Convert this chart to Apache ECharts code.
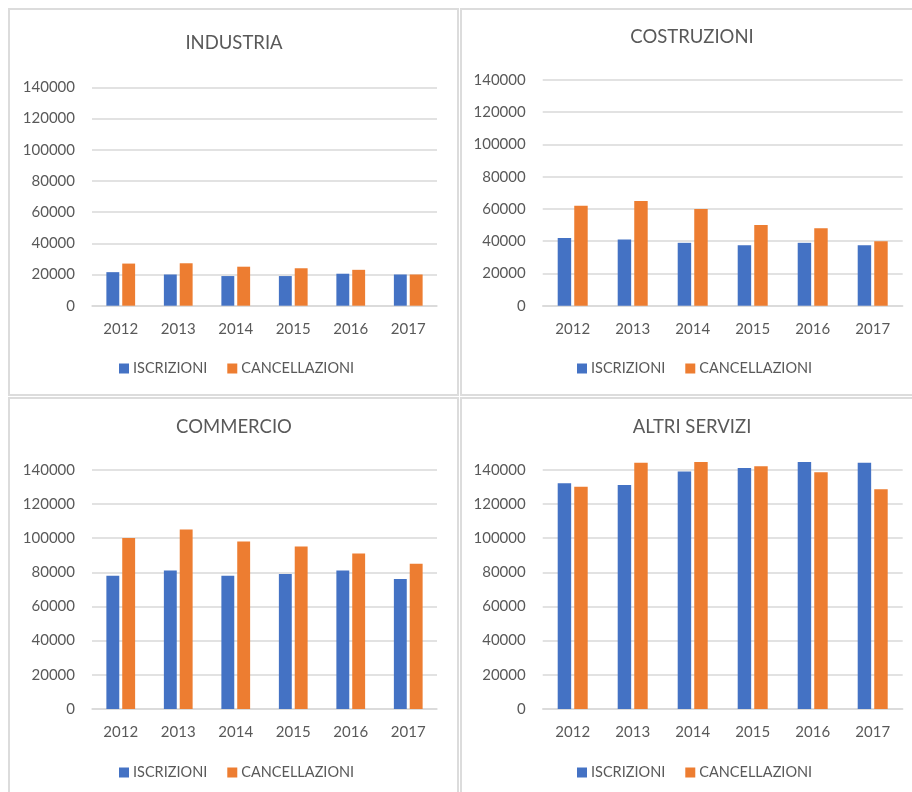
<!DOCTYPE html>
<html>
<head>
<meta charset="utf-8">
<script src="https://cdn.jsdelivr.net/npm/echarts@6/dist/echarts.min.js"></script>
<style>
  html, body { margin: 0; padding: 0; background: #ffffff; }
  #chart { width: 912px; height: 792px; }
</style>
</head>
<body>
<div id="chart"></div>
<script>
// Anni e serie per settore
const years = ['2012', '2013', '2014', '2015', '2016', '2017'];
const seriesNames = ['ISCRIZIONI', 'CANCELLAZIONI'];
const yTicks = { min: 0, max: 140000, interval: 20000 };

const industriaIscrizioni = [21500, 20000, 19000, 19000, 20500, 20000];
const industriaCancellazioni = [27000, 27200, 25000, 24000, 23000, 20000];

const costruzioniIscrizioni = [42000, 41000, 39000, 37500, 39000, 37500];
const costruzioniCancellazioni = [62000, 65000, 60000, 50000, 48000, 40000];

const commercioIscrizioni = [78000, 81000, 78000, 79000, 81000, 76000];
const commercioCancellazioni = [100000, 105000, 98000, 95000, 91000, 85000];

const altriIscrizioni = [132000, 131000, 139000, 141000, 144500, 144000];
const altriCancellazioni = [130000, 144000, 144500, 142000, 138500, 128500];

const panelTitles = ['INDUSTRIA', 'COSTRUZIONI', 'COMMERCIO', 'ALTRI SERVIZI'];
const panelData = [
  [industriaIscrizioni, industriaCancellazioni],
  [costruzioniIscrizioni, costruzioniCancellazioni],
  [commercioIscrizioni, commercioCancellazioni],
  [altriIscrizioni, altriCancellazioni]
];

// Layout of the four panels (page pixels)
const layout = [
  { box: [9, 9, 449, 386],  grid: [92, 87.3, 345, 218.4],  title: [234, 43],  legend: [119, 361] },
  { box: [461, 9, 460, 386], grid: [542.7, 80, 360, 225.7], title: [692, 37], legend: [577, 361] },
  { box: [9, 398, 449, 400], grid: [92, 469.7, 345, 239.3], title: [234, 427], legend: [119, 765] },
  { box: [461, 398, 460, 400], grid: [542.7, 469.7, 360, 239.3], title: [692, 427], legend: [577, 765] }
];

const COLORS = ['#4472C4', '#ED7D31'];
const TEXT = '#595959';
const LINE = '#d9d9d9';
const FONT = 'Lato, "Open Sans", sans-serif';

const grids = [], xAxes = [], yAxes = [], series = [], legends = [], graphics = [];

layout.forEach((p, i) => {
  graphics.push({
    type: 'rect', silent: true, z: 0,
    shape: { x: p.box[0], y: p.box[1], width: p.box[2], height: p.box[3] },
    style: { fill: 'none', stroke: '#dcdcdc', lineWidth: 2 }
  });
  graphics.push({
    type: 'text', silent: true,
    x: p.title[0], y: p.title[1],
    style: {
      text: panelTitles[i], fill: TEXT, font: '18.5px ' + FONT,
      textAlign: 'center', textVerticalAlign: 'middle'
    }
  });

  grids.push({ left: p.grid[0], top: p.grid[1], width: p.grid[2], height: p.grid[3] });

  xAxes.push({
    type: 'category', gridIndex: i, data: years,
    axisLine: { lineStyle: { color: LINE, width: 1.5 } },
    axisTick: { show: false },
    axisLabel: { color: TEXT, fontFamily: FONT, fontSize: 15, margin: 16 }
  });

  yAxes.push({
    type: 'value', gridIndex: i,
    min: yTicks.min, max: yTicks.max, interval: yTicks.interval,
    axisLine: { show: false }, axisTick: { show: false },
    axisLabel: {
      color: TEXT, fontFamily: FONT, fontSize: 15, margin: 17,
      formatter: v => String(v)
    },
    splitLine: { lineStyle: { color: LINE, width: 1.5 } }
  });

  seriesNames.forEach((name, s) => {
    series.push({
      type: 'bar', name: name,
      xAxisIndex: i, yAxisIndex: i,
      data: panelData[i][s],
      clip: false,
      barGap: '23%', barCategoryGap: '50%',
      itemStyle: { color: COLORS[s] },
      emphasis: { disabled: true }
    });
  });

  legends.push({
    left: p.legend[0], top: p.legend[1], padding: 0,
    orient: 'horizontal',
    data: seriesNames,
    icon: 'rect', itemWidth: 10, itemHeight: 10, itemGap: 20,
    textStyle: { color: TEXT, fontFamily: FONT, fontSize: 14.5, padding: [0, 0, 0, -1] },
    selectedMode: false
  });
});

const chart = echarts.init(document.getElementById('chart'), null, { renderer: 'canvas' });
chart.setOption({
  animation: false,
  color: COLORS,
  grid: grids,
  xAxis: xAxes,
  yAxis: yAxes,
  legend: legends,
  series: series,
  graphic: graphics
});
</script>
</body>
</html>
